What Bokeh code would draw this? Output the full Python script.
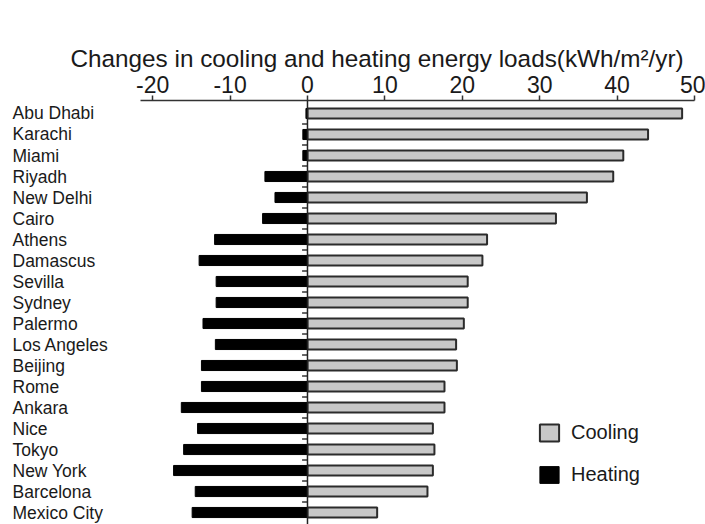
from bokeh.plotting import figure
from bokeh.models import ColumnDataSource, Range1d, FixedTicker, Span, Legend, LegendItem
from bokeh.core.properties import value
from bokeh.embed import file_html
from bokeh.resources import INLINE

cities = ["Abu Dhabi", "Karachi", "Miami", "Riyadh", "New Delhi", "Cairo", "Athens",
          "Damascus", "Sevilla", "Sydney", "Palermo", "Los Angeles", "Beijing", "Rome",
          "Ankara", "Nice", "Tokyo", "New York", "Barcelona", "Mexico City"]
cooling = [48.4, 44.0, 40.8, 39.5, 36.1, 32.1, 23.2, 22.6, 20.7, 20.7,
           20.2, 19.2, 19.3, 17.7, 17.7, 16.2, 16.4, 16.2, 15.5, 9.0]
heating = [-0.2, -0.6, -0.6, -5.5, -4.2, -5.8, -12.0, -14.0, -11.8, -11.8,
           -13.5, -11.9, -13.7, -13.7, -16.3, -14.2, -16.0, -17.3, -14.5, -14.9]
ticks = [-20, -10, 0, 10, 20, 30, 40, 50]
tick_labels = ["-20", "-10", "0", "10", "20", "30", "40", "50"]
title_text = "Changes in cooling and heating energy loads(kWh/m\u00b2/yr)"

FONT = "Liberation Sans"
pos = list(range(len(cities)))

X0, X1 = -39.66, 51.42
src = ColumnDataSource(dict(city=cities, y=pos, cool=cooling, heat=heating,
                            lx=[X0 + 1.55] * len(cities)))

p = figure(width=705, height=524, output_backend="svg", toolbar_location=None,
           x_axis_location="above", y_axis_location=None,
           x_range=Range1d(X0, X1), y_range=Range1d(19.571, -0.619),
           min_border_left=0, min_border_right=0, min_border_bottom=0, min_border_top=100,
           outline_line_color=None, background_fill_color="white")
p.xgrid.visible = False
p.ygrid.visible = False

p.title.text = title_text
p.title.text_font = FONT
p.title.text_font_size = "24.3px"
p.title.text_font_style = "normal"
p.title.text_color = "#1a1a1a"
p.title.align = "left"
p.title.offset = 70
p.title.standoff = 2

ax = p.xaxis[0]
ax.ticker = FixedTicker(ticks=ticks)
ax.major_label_overrides = {t: l for t, l in zip(ticks, tick_labels)}
ax.major_label_text_font = FONT
ax.major_label_text_font_size = "23px"
ax.major_label_text_color = "#1a1a1a"
ax.major_tick_out = 5
ax.major_tick_in = 0
ax.minor_tick_out = 0
ax.minor_tick_in = 0
ax.axis_line_width = 1.5
ax.axis_line_color = "#333333"
ax.major_tick_line_color = "#333333"
ax.major_tick_line_width = 1.5
ax.bounds = (-21.6, 50)
ax.major_label_standoff = 3

cool_r = p.hbar(y="y", left=0, right="cool", height=0.48, source=src,
                fill_color="#c8c8c8", line_color="#2b2b2b", line_width=2)
heat_r = p.hbar(y="y", left="heat", right=0, height=0.48, source=src,
                fill_color="black", line_color="black", line_width=1)

p.add_layout(Span(location=0, dimension="height", line_color="#222222", line_width=1.5))

bsrc = ColumnDataSource(dict(y=[i + 0.5 for i in pos[:-1]]))
p.segment(x0=-0.7, x1=0, y0="y", y1="y", source=bsrc, line_color="#333333", line_width=1.5)

p.text(x="lx", y="y", text="city", source=src, text_font=value(FONT),
       text_font_size="17.5px", text_baseline="middle", text_align="left", text_color="#1a1a1a")

legend = Legend(items=[LegendItem(label="Cooling", renderers=[cool_r]),
                       LegendItem(label="Heating", renderers=[heat_r])],
                location=(537, 38), orientation="vertical",
                glyph_width=24, glyph_height=21, spacing=19, label_standoff=10,
                label_text_font=FONT, label_text_font_size="20px", label_text_color="#1a1a1a",
                padding=0, margin=0, border_line_color=None, background_fill_alpha=0)
p.add_layout(legend)

open("out.html", "w").write(file_html(p, INLINE))
